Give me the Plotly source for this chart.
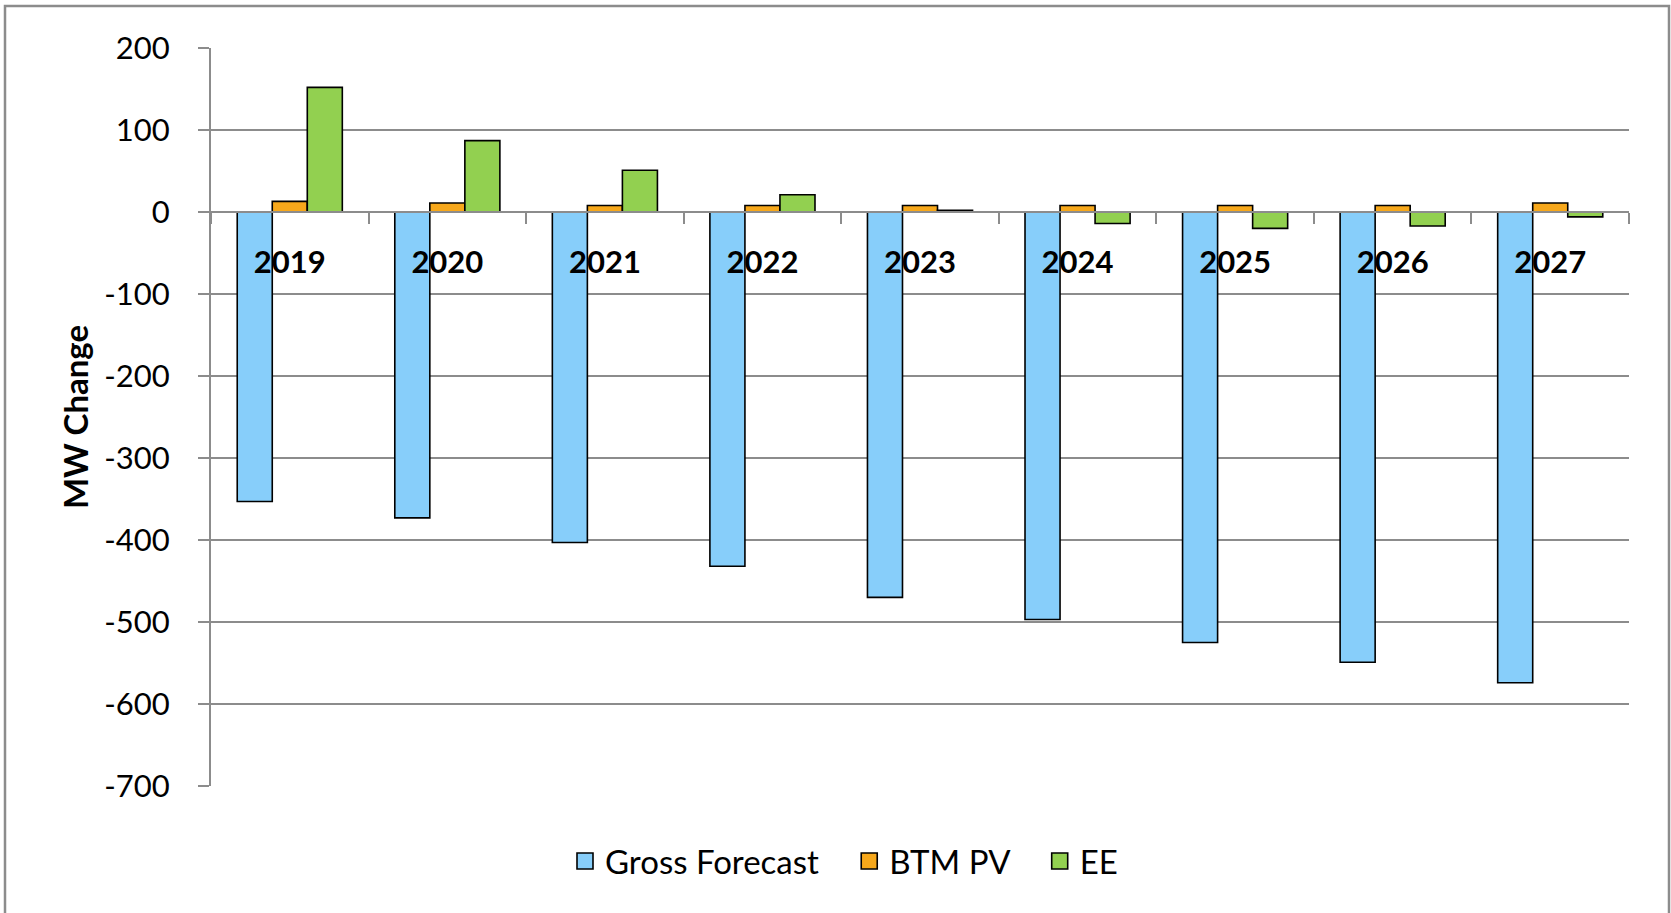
import plotly.graph_objects as go

years = ["2019", "2020", "2021", "2022", "2023", "2024", "2025", "2026", "2027"]
gross_forecast = [-353, -373, -403, -432, -470, -497, -525, -549, -574]
btm_pv = [13, 11, 8, 8, 8, 8, 8, 8, 11]
ee = [152, 87, 51, 21, 2, -14, -20, -17, -6]

y_tick_vals = [200, 100, 0, -100, -200, -300, -400, -500, -600, -700]
y_tick_text = ["200", "100", "0", "-100", "-200", "-300", "-400", "-500", "-600", "-700"]

y_min, y_max = -700, 200

W, H = 1671, 913
L, R, T, B = 211, 42, 48, 127
pw, ph = W - L - R, H - T - B

colors = {"Gross Forecast": "#87CEFA", "BTM PV": "#F7A81B", "EE": "#92D050"}
series = [("Gross Forecast", gross_forecast), ("BTM PV", btm_pv), ("EE", ee)]
pad = "\u00a0\u00a0\u00a0"

fig = go.Figure()
for name, vals in series:
    fig.add_trace(go.Bar(
        x=years, y=vals, name=name, showlegend=False, legendgroup=name,
        marker=dict(color=colors[name], line=dict(color="black", width=1.6)),
    ))
# legend entries with larger square swatches
for i, (name, _) in enumerate(series):
    label = name + (pad if i < len(series) - 1 else "")
    fig.add_trace(go.Scatter(
        x=[None], y=[None], mode="markers", name=label, legendgroup=name,
        marker=dict(symbol="square", size=16, color=colors[name],
                    line=dict(color="black", width=1.6)),
    ))

grid = "#8C8C8C"
fig.update_layout(
    width=W, height=H,
    margin=dict(l=L, r=R, t=T, b=B),
    paper_bgcolor="white", plot_bgcolor="white",
    barmode="group", bargap=0.333, bargroupgap=0,
    font=dict(family="Lato, Carlito, sans-serif", color="black", size=30),
    showlegend=True,
    legend=dict(
        orientation="h", x=(844 - L) / pw, xanchor="center",
        y=(T + ph - 861) / ph, yanchor="middle",
        font=dict(size=33), itemwidth=30,
    ),
    xaxis=dict(
        type="category", anchor="free",
        position=(0 - y_min) / (y_max - y_min),
        showline=True, linecolor=grid, linewidth=2,
        ticks="outside", tickson="boundaries", ticklen=11, tickcolor=grid, tickwidth=2,
        tickfont=dict(size=31, family="Lato, sans-serif", weight="bold"),
        ticklabelstandoff=23,
        showgrid=False,
    ),
    yaxis=dict(
        range=[y_min, y_max],
        tickmode="array", tickvals=y_tick_vals, ticktext=y_tick_text,
        showline=True, linecolor=grid, linewidth=2,
        ticks="outside", ticklen=11, tickcolor=grid, tickwidth=2,
        showgrid=True, gridcolor=grid, gridwidth=2,
        zeroline=True, zerolinecolor=grid, zerolinewidth=2,
        tickfont=dict(size=31),
        ticklabelstandoff=22,
        title=dict(text="MW Change", font=dict(size=33, weight="bold"), standoff=6),
    ),
    shapes=[dict(
        type="rect", xref="paper", yref="paper",
        x0=(5 - L) / pw, x1=(1669 - L) / pw,
        y0=(T + ph - 920) / ph, y1=(T + ph - 6) / ph,
        line=dict(color="#8C8C8C", width=2.5), fillcolor="rgba(0,0,0,0)",
        layer="below",
    )],
)

fig.write_html("out.html")
